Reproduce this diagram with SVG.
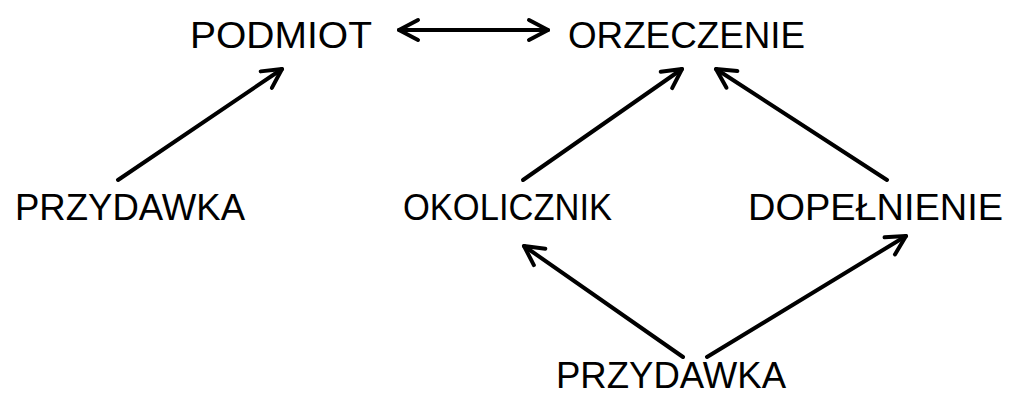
<svg xmlns="http://www.w3.org/2000/svg" width="1013" height="396" viewBox="0 0 1013 396">
  <style>
    .lbl { font-family: "Liberation Sans", Arial, sans-serif; font-size: 37px; fill: #000; }
    .edge { fill: none; stroke: #000; stroke-width: 4; stroke-linecap: round; }
  </style>
  <defs>
    <marker id="ah" markerUnits="userSpaceOnUse" orient="auto-start-reverse" refX="0" refY="0" markerWidth="30" markerHeight="30" viewBox="-25 -15 30 30" overflow="visible">
      <path d="M-19,-10 L0,0 L-19,10" fill="none" stroke="#000" stroke-width="4" stroke-linecap="round" stroke-linejoin="round"/>
    </marker>
  </defs>
  <rect width="1013" height="396" fill="#fff"/>
  <g id="connectors">
    <line class="edge" x1="399" y1="30" x2="548" y2="30" marker-start="url(#ah)" marker-end="url(#ah)"/>
    <line class="edge" x1="118" y1="180" x2="282" y2="69" marker-end="url(#ah)"/>
    <line class="edge" x1="523" y1="180" x2="682" y2="69" marker-end="url(#ah)"/>
    <line class="edge" x1="887" y1="180" x2="716" y2="69" marker-end="url(#ah)"/>
    <line class="edge" x1="683" y1="357" x2="524" y2="246" marker-end="url(#ah)"/>
    <line class="edge" x1="707" y1="357" x2="906" y2="236" marker-end="url(#ah)"/>
  </g>
  <g id="node-podmiot"><text class="lbl" x="190" y="48" textLength="182" lengthAdjust="spacingAndGlyphs">PODMIOT</text></g>
  <g id="node-orzeczenie"><text class="lbl" x="568" y="48" textLength="237" lengthAdjust="spacingAndGlyphs">ORZECZENIE</text></g>
  <g id="node-przydawka-1"><text class="lbl" x="15" y="220" textLength="230" lengthAdjust="spacingAndGlyphs">PRZYDAWKA</text></g>
  <g id="node-okolicznik"><text class="lbl" x="403" y="220" textLength="209" lengthAdjust="spacingAndGlyphs">OKOLICZNIK</text></g>
  <g id="node-dopelnienie"><text class="lbl" x="748" y="220" textLength="255" lengthAdjust="spacingAndGlyphs">DOPEŁNIENIE</text></g>
  <g id="node-przydawka-2"><text class="lbl" x="556" y="388" textLength="230" lengthAdjust="spacingAndGlyphs">PRZYDAWKA</text></g>
</svg>
